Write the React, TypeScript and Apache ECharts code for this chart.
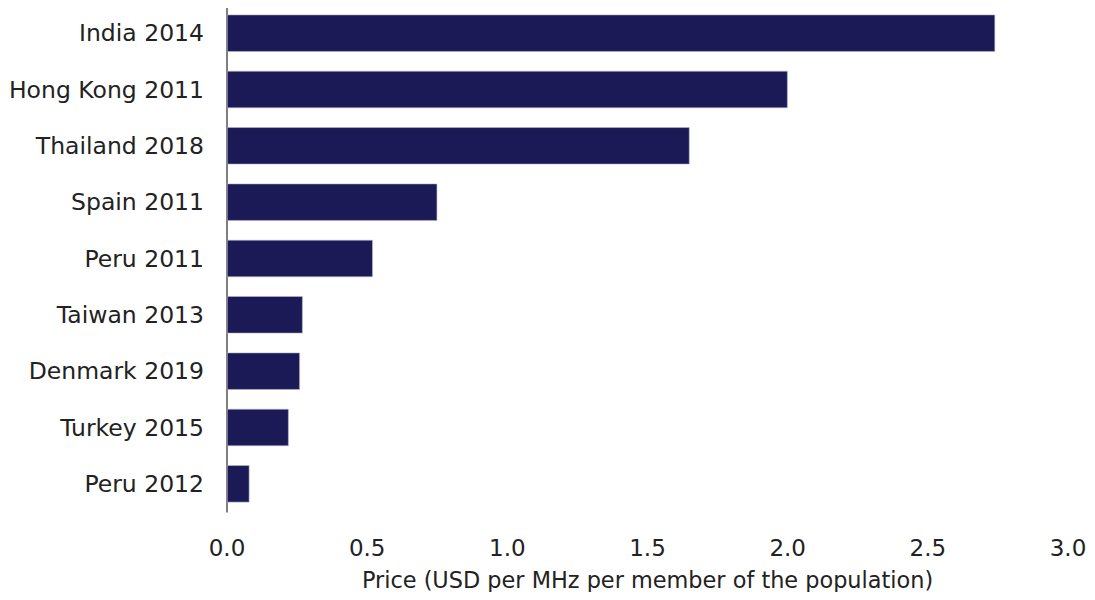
import React, { useEffect, useRef } from "react";
import * as echarts from "echarts";

const categories = [
  "India 2014",
  "Hong Kong 2011",
  "Thailand 2018",
  "Spain 2011",
  "Peru 2011",
  "Taiwan 2013",
  "Denmark 2019",
  "Turkey 2015",
  "Peru 2012",
];
const values = [2.74, 2.0, 1.65, 0.75, 0.52, 0.27, 0.26, 0.22, 0.08];
const xTicks = [0, 0.5, 1.0, 1.5, 2.0, 2.5, 3.0];
const xAxisTitle = "Price (USD per MHz per member of the population)";

export default function App() {
  const ref = useRef<HTMLDivElement>(null);
  useEffect(() => {
    if (!ref.current) return;
    const chart = echarts.init(ref.current, undefined, { renderer: "svg" });
    const font = "DejaVu Sans";
    chart.setOption({
      animation: false,
      grid: { left: 227, right: 27, top: 5, bottom: 88, containLabel: false },
      xAxis: {
        type: "value",
        min: xTicks[0],
        max: xTicks[xTicks.length - 1],
        interval: 0.5,
        axisLine: { show: false },
        axisTick: { show: false },
        splitLine: { show: false },
        axisLabel: {
          formatter: (v: number) => v.toFixed(1),
          fontFamily: font,
          fontSize: 23,
          color: "#222",
          margin: 24,
        },
        name: xAxisTitle,
        nameLocation: "middle",
        nameGap: 57,
        nameTextStyle: { fontFamily: font, fontSize: 22.4, color: "#222" },
      },
      yAxis: {
        type: "category",
        data: categories,
        inverse: true,
        axisLine: { show: true, lineStyle: { color: "#555", width: 1.5 } },
        axisTick: { show: false },
        axisLabel: {
          fontFamily: font,
          fontSize: 23.5,
          color: "#222",
          margin: 23,
        },
      },
      series: [
        {
          type: "bar",
          data: values,
          barCategoryGap: "34%",
          itemStyle: { color: "#1b1a57", borderColor: "#b8b8cc", borderWidth: 0.6 },
        },
      ],
    });
    return () => chart.dispose();
  }, []);
  return <div ref={ref} style={{ width: 1095, height: 600, margin: -8 }} />;
}
